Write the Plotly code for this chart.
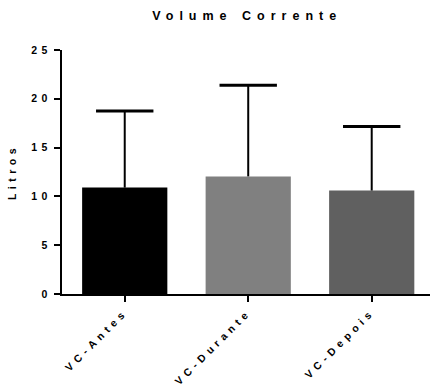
import plotly.graph_objects as go

categories = ["VC-Antes", "VC-Durante", "VC-Depois"]
means = [10.9, 12.05, 10.6]
sd = [7.85, 9.35, 6.55]
colors = ["#000000", "#808080", "#606060"]
y_ticks = [0, 5, 10, 15, 20, 25]

FONT = "Arial, Liberation Sans, sans-serif"

tops = [m + s for m, s in zip(means, sd)]

fig = go.Figure()
fig.add_trace(go.Bar(
    x=categories,
    y=means,
    marker=dict(color=colors, line=dict(width=0)),
    width=0.69,
    hoverinfo="skip",
))
# upward-only error bars: stem via error_y (no caps), cap via marker
fig.add_trace(go.Scatter(
    x=categories, y=tops, mode="markers",
    marker=dict(symbol="line-ew", size=41, line=dict(width=3, color="black"), color="black"),
    error_y=dict(type="data", array=[0] * len(sd), arrayminus=sd, symmetric=False,
                 color="#000000", thickness=2, width=0),
    hoverinfo="skip",
))

fig.update_layout(
    width=430, height=387,
    margin=dict(l=62, r=0, t=50, b=93),
    paper_bgcolor="white", plot_bgcolor="white",
    showlegend=False,
    title=dict(text="<b>Volume Corrente</b>", x=0.575, xanchor="center", y=0.96, yanchor="middle",
               font=dict(family=FONT, size=12.5, color="black")),
    font=dict(family=FONT, color="black"),
)
fig.update_xaxes(
    range=[-0.508, 2.472], showline=True, linecolor="black", linewidth=2,
    ticks="outside", ticklen=6, tickwidth=2, tickcolor="black",
    tickangle=-45, tickfont=dict(family=FONT, size=10.5, color="black", weight="bold"),
    showgrid=False, zeroline=False, automargin=False,
)
fig.update_yaxes(
    range=[0, 25], tickvals=y_ticks, showline=True, linecolor="black", linewidth=2,
    ticks="outside", ticklen=6, tickwidth=2, tickcolor="black",
    tickfont=dict(family=FONT, size=10.5, color="black", weight="bold"),
    title=dict(text="<b>Litros</b>", font=dict(family=FONT, size=10.5, color="black"), standoff=22),
    showgrid=False, zeroline=False, automargin=False,
)

post = """
(function(){
  document.body.style.margin='0';
  document.body.style.padding='0';
  var gd = document.getElementById('{plot_id}');
  function sp(){
    gd.querySelectorAll('.gtitle').forEach(function(t){t.style.letterSpacing='6px';});
    gd.querySelectorAll('.xtick text, .ytick text, .g-ytitle text').forEach(function(t){t.style.letterSpacing='4.5px';});
  }
  sp();
  gd.on && gd.on('plotly_afterplot', sp);
  setTimeout(sp, 50);
})();
"""
fig.write_html("out.html", post_script=post, config={"displayModeBar": False})
